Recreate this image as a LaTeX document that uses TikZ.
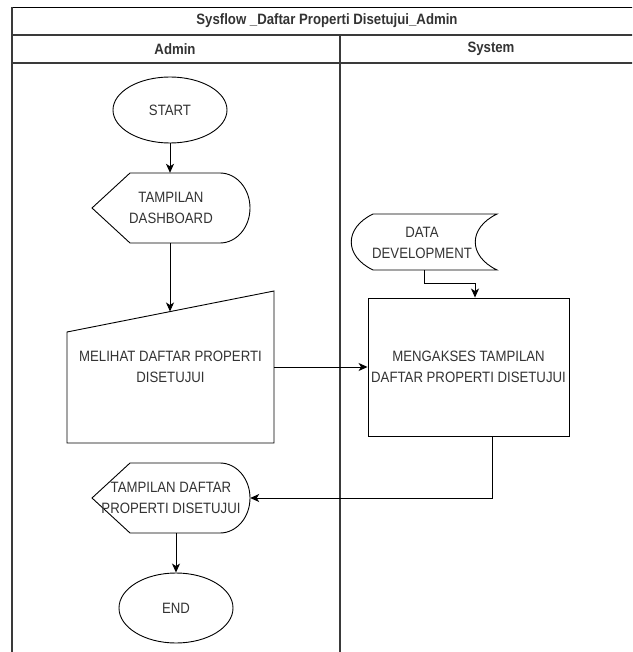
\documentclass[tikz,border=0pt]{standalone}
\usepackage{fontspec}
\setmainfont{Liberation Sans}[FakeStretch=0.88]
\usetikzlibrary{shapes.geometric,arrows.meta,calc}
\definecolor{txt}{HTML}{333333}
\definecolor{frame}{HTML}{3A3A3A}
\begin{document}
\begin{tikzpicture}[x=1pt,y=-1pt,
  lbl/.style={font=\fontsize{15}{21.5}\selectfont,text=txt,align=center,inner sep=0pt},
  hdr/.style={font=\bfseries\fontsize{15}{18}\selectfont,text=txt,inner sep=0pt},
  shp/.style={draw=black,line width=0.9pt},
  arr/.style={draw=black,line width=0.9pt,-{Stealth[length=9pt,width=8pt,inset=2.5pt]}},
  lane/.style={draw=frame,line width=1.6pt}]
\useasboundingbox (0,0) rectangle (632,652);
\fill[white] (0,0) rectangle (632,652);
\clip (0,0) rectangle (632,652);
% swimlane frame
\draw[lane,draw=black] (12,7.5) -- (645,7.5);
\draw[lane] (12,7.5) -- (12,655);
\draw[lane] (12,35) -- (645,35);
\draw[lane] (12,63) -- (645,63);
\draw[lane] (340,35) -- (340,655);
\node[hdr] (title) at (327,21) {Sysflow \_Daftar Properti Disetujui\_Admin};
\node[hdr] (hadmin) at (175,49) {Admin};
\node[hdr] (hsystem) at (491,49) {System};
% START
\node[lbl,shp,ellipse,minimum width=114pt,minimum height=66pt] (start) at (170,110) {START};
% display 1
\draw[shp] (92,208) -- (130,173) -- (220,173) arc[start angle=-90,end angle=90,x radius=30,y radius=35] -- (130,243) -- cycle;
\node[lbl,minimum width=158pt,minimum height=70pt] (disp1) at (171,208) {TAMPILAN\\DASHBOARD};
% manual input
\draw[shp] (67,332) -- (274,291) -- (274,443) -- (67,443) -- cycle;
\node[lbl,minimum width=207pt,minimum height=152pt] (manual) at (170.5,367) {MELIHAT DAFTAR PROPERTI\\DISETUJUI};
\coordinate (mtop) at (170,311.5);
% data development
\draw[shp] (373,214) -- (497,214) .. controls (468,228) and (468,256) .. (497,270) -- (373,270) .. controls (344,256) and (344,228) .. (373,214);
\node[lbl,minimum width=146pt,minimum height=56pt] (data) at (424,242) {};
\node[lbl] (datatxt) at (422,243) {DATA\\DEVELOPMENT};
% process
\node[lbl,shp,minimum width=201pt,minimum height=138pt] (proc) at (468.5,367) {MENGAKSES TAMPILAN\\DAFTAR PROPERTI DISETUJUI};
% display 2
\draw[shp] (92,498) -- (130,463) -- (220,463) arc[start angle=-90,end angle=90,x radius=30,y radius=35] -- (130,533) -- cycle;
\node[lbl,minimum width=158pt,minimum height=70pt] (disp2) at (171,498) {TAMPILAN DAFTAR\\PROPERTI DISETUJUI};
% END
\node[lbl,shp,ellipse,minimum width=114pt,minimum height=70pt] (end) at (176,608) {END};
% connectors
\draw[arr] (start.south) -- (start.south |- disp1.north);
\draw[arr] (disp1.south -| mtop) -- (mtop);
\draw[arr] (manual.east) -- (proc.west);
\draw[arr] (data.south) -- ++(0,13) -| ([xshift=6.5pt]proc.north);
\draw[arr] ([xshift=23.5pt]proc.south) |- (disp2.east);
\draw[arr] (disp2.south -| end.north) -- (end.north);
\end{tikzpicture}
\end{document}
